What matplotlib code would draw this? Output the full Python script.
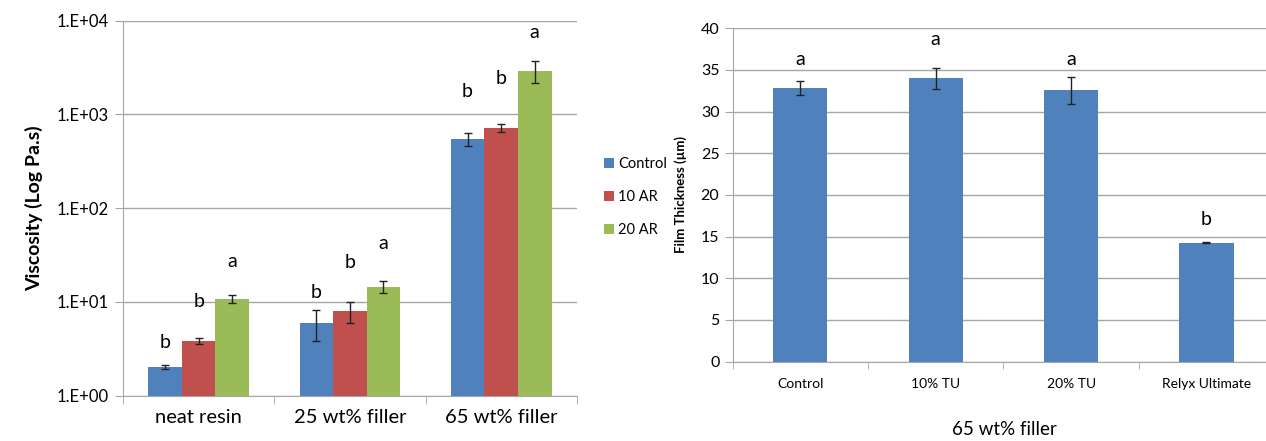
import numpy as np
import matplotlib
matplotlib.use('Agg')
import matplotlib.pyplot as plt

plt.rcParams['font.family'] = ['Lato', 'DejaVu Sans']

# left panel: viscosity
groups = ['neat resin', '25 wt% filler', '65 wt% filler']
series = ['Control', '10 AR', '20 AR']
colors = ['#4F81BD', '#C0504D', '#9BBB59']
visc = [[2.0, 6.0, 550],
        [3.86, 7.9, 715],
        [10.7, 14.5, 2930]]
visc_err = [[0.1, 2.2, 85],
            [0.3, 2.0, 70],
            [1.0, 2.0, 780]]
visc_letters = [['b', 'b', 'b'], ['b', 'b', 'b'], ['a', 'a', 'a']]
visc_letter_y = [[3.7, 12.6, 1750],
                 [10.1, 26.4, 2430],
                 [26.9, 42.2, 7500]]

# right panel: film thickness
film_cats = ['Control', '10% TU', '20% TU', 'Relyx Ultimate']
film = [32.8, 34.0, 32.56, 14.28]
film_err = [0.85, 1.25, 1.6, 0.1]
film_letters = ['a', 'a', 'a', 'b']
film_letter_y = [36.3, 38.7, 36.3, 17.0]

grid_c = '#a6a6a6'

fig = plt.figure(figsize=(12.66, 4.41), dpi=100)

ax1 = fig.add_axes([0.0972, 0.103, 0.3584, 0.850])
x = np.arange(len(groups))
w = 0.222
for i, name in enumerate(series):
    ax1.bar(x + (i - 1) * w, visc[i], w, color=colors[i], label=name, zorder=2)
    ax1.errorbar(x + (i - 1) * w, visc[i], yerr=visc_err[i], fmt='none',
                 ecolor='#222222', elinewidth=1, capsize=3, capthick=1, zorder=3)
    for j in range(len(groups)):
        ax1.text(x[j] + (i - 1) * w, visc_letter_y[i][j], visc_letters[i][j],
                 ha='center', va='center', fontsize=14)
ax1.set_yscale('log')
ax1.set_ylim(1, 1e4)
ax1.set_xlim(-0.5, 2.5)
ax1.set_yticks([1, 10, 100, 1000, 10000])
ax1.set_yticklabels(['1.E+00', '1.E+01', '1.E+02', '1.E+03', '1.E+04'], fontsize=12)
ax1.yaxis.set_minor_locator(matplotlib.ticker.NullLocator())
ax1.set_xticks(x)
ax1.set_xticklabels(groups, fontsize=14.5)
ax1.set_xticks([-0.5, 0.5, 1.5, 2.5], minor=True)
ax1.tick_params(axis='x', which='major', length=0, pad=10)
ax1.tick_params(axis='x', which='minor', length=6, color=grid_c)
ax1.tick_params(axis='y', length=6, color=grid_c, pad=4)
ax1.set_ylabel('Viscosity (Log Pa.s)', fontsize=14, fontweight='bold', labelpad=10)
ax1.grid(axis='y', color=grid_c, linewidth=1, zorder=0)
for s in ['top', 'right']:
    ax1.spines[s].set_visible(False)
for s in ['left', 'bottom']:
    ax1.spines[s].set_color(grid_c)
ax1.legend(loc='center left', bbox_to_anchor=(1.03, 0.53), frameon=False,
           fontsize=10.5, handlelength=0.7, handleheight=0.7, handletextpad=0.3,
           labelspacing=1.3)

ax2 = fig.add_axes([0.5787, 0.18, 0.4213, 0.756])
xf = np.arange(len(film_cats))
ax2.bar(xf, film, 0.4, color=colors[0], zorder=2)
ax2.errorbar(xf, film, yerr=film_err, fmt='none', ecolor='#222222',
             elinewidth=1, capsize=3, capthick=1, zorder=3)
for j in range(len(film_cats)):
    ax2.text(xf[j], film_letter_y[j], film_letters[j], ha='center', va='center',
             fontsize=14)
ax2.set_ylim(0, 40)
ax2.set_xlim(-0.5, 3.44)
ax2.set_yticks(np.arange(0, 41, 5))
ax2.tick_params(axis='y', labelsize=11.5, length=6, color=grid_c)
ax2.set_xticks(xf)
ax2.set_xticklabels(film_cats, fontsize=10)
ax2.set_xticks([-0.5, 0.5, 1.5, 2.5], minor=True)
ax2.tick_params(axis='x', which='major', length=0, pad=12)
ax2.tick_params(axis='x', which='minor', length=5, color=grid_c)
ax2.set_ylabel('Film Thickness (µm)', fontsize=9.5, fontweight='bold', labelpad=10)
ax2.set_xlabel('65 wt% filler', fontsize=13.5)
ax2.xaxis.set_label_coords(0.51, -0.205)
ax2.xaxis.label.set_verticalalignment('center')
ax2.grid(axis='y', color=grid_c, linewidth=1, zorder=0)
for s in ['top', 'right']:
    ax2.spines[s].set_visible(False)
for s in ['left', 'bottom']:
    ax2.spines[s].set_color(grid_c)

fig.savefig('out.png', dpi=100)
